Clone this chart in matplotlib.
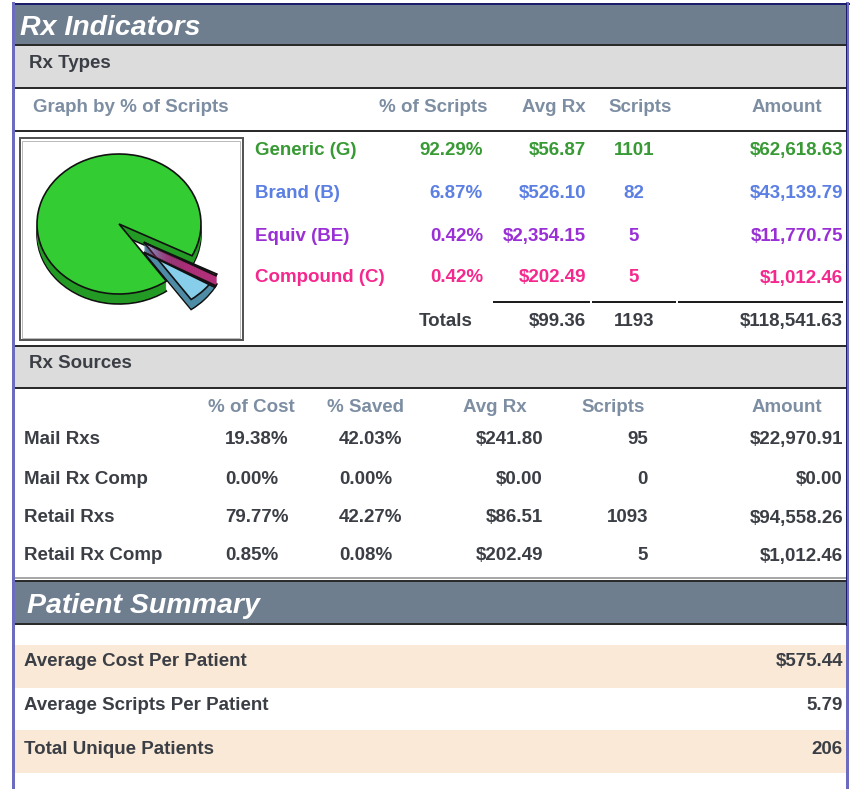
import numpy as np
import matplotlib
matplotlib.use("Agg")
import matplotlib.pyplot as plt
import matplotlib.patches as mpatches
import matplotlib.transforms as mtrans

plt.rcParams['font.family'] = ['Liberation Sans', 'DejaVu Sans']
plt.rcParams['font.weight'] = 'bold'

# --- data
type_labels = ['Generic (G)', 'Brand (B)', 'Equiv (BE)', 'Compound (C)']
type_pct = [92.29, 6.87, 0.42, 0.42]
type_avg = [56.87, 526.10, 2354.15, 202.49]
type_scripts = [1101, 82, 5, 5]
type_amount = [62618.63, 43139.79, 11770.75, 1012.46]
total_avg = 99.36
total_scripts = 1193
total_amount = 118541.63

source_labels = ['Mail Rxs', 'Mail Rx Comp', 'Retail Rxs', 'Retail Rx Comp']
source_cost_pct = [19.38, 0.00, 79.77, 0.85]
source_saved_pct = [42.03, 0.00, 42.27, 0.08]
source_avg = [241.80, 0.00, 86.51, 202.49]
source_scripts = [95, 0, 1093, 5]
source_amount = [22970.91, 0.00, 94558.26, 1012.46]

patient_labels = ['Average Cost Per Patient', 'Average Scripts Per Patient', 'Total Unique Patients']
patient_values = ['$575.44', '5.79', '206']

# --- colours
type_text_colors = ['#389a34', '#5b7fe3', '#9a2fd6', '#f5288e']
pie_top = ['#33cc33', '#87ceeb', '#99206e', '#ff5ab4']
pie_side = ['#239a23', '#4e8ca6', '#5e1044', '#b0307a']
SLATE = '#6f7e8f'
GRAY = '#dcdcdc'
BEIGE = '#fae9d7'
DARK = '#3b3f45'
HEAD = '#7d8ea3'
FS = 13.5
PX = 0.72  # one pixel in points


def money(v):
    return "${:,.2f}".format(v)


fig = plt.figure(figsize=(8.56, 7.89), dpi=100)
ax = fig.add_axes([0, 0, 1, 1])
ax.set_xlim(0, 856)
ax.set_ylim(789, 0)
ax.axis('off')

L, R = 15, 847


def band(y0, y1, color):
    ax.add_patch(mpatches.Rectangle((L, y0), R - L, y1 - y0, facecolor=color, edgecolor='none', zorder=1))


def hline(y, color='#2b2b2b', w=2, x0=L, x1=R):
    ax.plot([x0, x1], [y, y], color=color, lw=w * PX, solid_capstyle='butt', zorder=3)


def txt(x, y, s, ha='left', color=DARK, size=FS, **kw):
    ax.text(x, y, s, ha=ha, va='center_baseline', color=color, fontsize=size, fontweight='bold', zorder=5, **kw)


# --- Rx Indicators title
band(4, 45, SLATE)
txt(20, 25, 'Rx Indicators', color='white', size=20.5, style='italic')
hline(45)
band(46, 88, GRAY)
txt(29, 61, 'Rx Types')
hline(88)

# header row
txt(33, 105, 'Graph by % of Scripts', color=HEAD)
txt(488, 105, '% of Scripts', ha='right', color=HEAD)
txt(586, 105, 'Avg Rx', ha='right', color=HEAD)
txt(640, 105, 'Scripts', ha='center', color=HEAD)
txt(822, 105, 'Amount', ha='right', color=HEAD)
hline(131)

# type rows
row_y = [148, 191, 234, 276]
for i in range(len(type_labels)):
    c = type_text_colors[i]
    y = row_y[i]
    txt(255, y, type_labels[i], color=c)
    txt(483, y, "{:.2f}%".format(type_pct[i]), ha='right', color=c)
    txt(586, y, money(type_avg[i]), ha='right', color=c)
    txt(634, y, str(type_scripts[i]), ha='center', color=c)
    txt(843, y, money(type_amount[i]), ha='right', color=c)

for x0, x1 in [(493, 590), (592, 676), (678, 843)]:
    hline(302, color='#1e1e1e', w=2, x0=x0, x1=x1)
txt(446, 319, 'Totals', ha='center')
txt(586, 319, money(total_avg), ha='right')
txt(634, 319, str(total_scripts), ha='center')
txt(843, 319, money(total_amount), ha='right')

# pie box
ax.add_patch(mpatches.Rectangle((20, 138), 223, 202, facecolor='white', edgecolor='#555555', lw=2 * PX, zorder=2))
ax.add_patch(mpatches.Rectangle((22.5, 140.5), 218, 197, facecolor='none', edgecolor='#bbbbbb', lw=1 * PX, zorder=2))

# 3d pie
cx, cy, rx, ry, depth = 119, 224, 82, 70, 10
start = 27.0
angles = []
a = start
for v in reversed(type_pct):
    span = 360.0 * v / sum(type_pct)
    angles.append((a, a + span))
    a += span
angles = angles[::-1]  # back to G, B, BE, C order

grp = (angles[3][0] + angles[1][1]) / 2.0
explode = 0.4
ex = explode * np.cos(np.radians(grp)) * rx
ey = explode * np.sin(np.radians(grp)) * ry


def wedge(t1, t2, ox, oy, fc, ec, lw, z):
    tr = mtrans.Affine2D().scale(rx, ry).translate(cx + ox, cy + oy) + ax.transData
    w = mpatches.Wedge((0, 0), 1.0, t1, t2, facecolor=fc, edgecolor=ec, lw=lw, transform=tr, zorder=z)
    ax.add_patch(w)


for i in range(len(type_pct)):
    t1, t2 = angles[i]
    ox, oy = (0, 0) if i == 0 else (ex, ey)
    z = 3 if i == 0 else 4
    wedge(t1, t2, ox, oy + depth, pie_side[i], '#111111', 1.2, z)
    for k in range(depth - 1, 0, -1):
        wedge(t1, t2, ox, oy + k, pie_side[i], 'none', 0, z)
    wedge(t1, t2, ox, oy, pie_top[i], '#111111', 1.2, z)

# --- Rx Sources
hline(346)
band(347, 387, GRAY)
txt(29, 361, 'Rx Sources')
hline(388)

txt(251, 405, '% of Cost', ha='center', color=HEAD)
txt(366, 405, '% Saved', ha='center', color=HEAD)
txt(495, 405, 'Avg Rx', ha='center', color=HEAD)
txt(613, 405, 'Scripts', ha='center', color=HEAD)
txt(822, 405, 'Amount', ha='right', color=HEAD)

src_y = [437, 477, 516, 554]
for i in range(len(source_labels)):
    y = src_y[i]
    txt(24, y, source_labels[i])
    txt(225, y, "{:.2f}%".format(source_cost_pct[i]))
    txt(339, y, "{:.2f}%".format(source_saved_pct[i]))
    txt(543, y, money(source_avg[i]), ha='right')
    txt(648, y, str(source_scripts[i]), ha='right')
    txt(843, y, money(source_amount[i]), ha='right')

hline(578, color='#8a8a8a', w=1.5)

# --- Patient Summary
hline(581)
band(582, 623, SLATE)
txt(27, 603, 'Patient Summary', color='white', size=20.5, style='italic')
hline(624)

pat_bands = [(645, 688, BEIGE), (688, 730, 'white'), (730, 773, BEIGE)]
pat_y = [660, 704, 747]
for i in range(len(patient_labels)):
    band(*pat_bands[i])
    txt(24, pat_y[i], patient_labels[i])
    txt(843, pat_y[i], patient_values[i], ha='right')

# --- frame
ax.plot([13, 849], [3.5, 3.5], color='#1c1c6e', lw=2 * PX, zorder=6)
ax.plot([13.5, 13.5], [3, 789], color='#6b6bbf', lw=3 * PX, zorder=6)
ax.plot([847.5, 847.5], [3, 789], color='#6b6bbf', lw=3 * PX, zorder=6)
ax.plot([846.5, 846.5], [3, 625], color='#1c1c6e', lw=1 * PX, zorder=6)

fig.savefig('out.png', dpi=100, facecolor='white')
